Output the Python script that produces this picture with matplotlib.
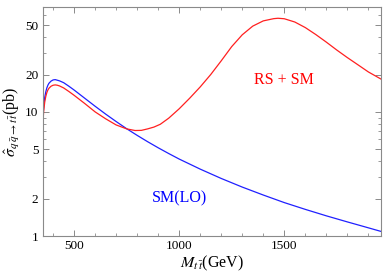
import matplotlib
matplotlib.use("Agg")
import matplotlib.pyplot as plt
from matplotlib.ticker import FixedLocator, NullFormatter, FixedFormatter

plt.rcParams['font.family'] = ['Liberation Serif', 'DejaVu Serif']
plt.rcParams['mathtext.fontset'] = 'stix'

# SM(LO)
sm_x = [350, 352, 355, 360, 365, 370, 375, 380, 390, 400, 410, 420, 430, 450, 475, 500,
        550, 600, 650, 700, 750, 800, 850, 900, 950, 1000, 1100, 1200, 1300, 1400,
        1500, 1600, 1700, 1800, 1900, 1960]
sm_y = [7.7, 9.2, 11.0, 13.1, 14.5, 15.6, 16.4, 17.0, 17.7, 18.1, 18.2, 18.0, 17.8, 17.2, 16.1, 15.0,
        12.9, 11.1, 9.6, 8.36, 7.32, 6.47, 5.75, 5.14, 4.62, 4.17, 3.46, 2.91, 2.48, 2.14,
        1.86, 1.64, 1.455, 1.30, 1.165, 1.09]

# RS + SM
rs_x = [350, 352, 355, 360, 365, 370, 375, 380, 390, 400, 410, 420, 430, 450, 475, 500,
        550, 600, 650, 700, 750, 790, 820, 850, 880, 910, 950, 1000, 1050, 1100, 1150,
        1200, 1250, 1300, 1350, 1400, 1450, 1470, 1500, 1550, 1600, 1650, 1700, 1750,
        1800, 1850, 1900, 1960]
rs_y = [7.3, 8.5, 10.1, 12.0, 13.3, 14.3, 15.0, 15.5, 16.1, 16.4, 16.5, 16.4, 16.2, 15.6, 14.6, 13.6,
        11.7, 10.0, 8.8, 7.85, 7.3, 7.08, 7.1, 7.3, 7.55, 7.95, 8.9, 10.6, 12.9, 15.9, 20.0,
        25.8, 33.6, 41.8, 49.1, 54.1, 56.4, 56.8, 56.3, 53.0, 47.8, 42.0, 36.5, 31.5,
        27.4, 24.0, 21.0, 18.4]

x_major = [500, 1000, 1500]
x_minor = [400, 600, 700, 800, 900, 1100, 1200, 1300, 1400, 1600, 1700, 1800, 1900]
y_major = [1, 2, 5, 10, 20, 50]
y_minor = [3, 4, 6, 7, 8, 9, 30, 40, 60, 70]

fig = plt.figure(figsize=(3.84, 2.80), dpi=100)
ax = fig.add_axes([0.111, 0.157, 0.881, 0.818])

ax.plot(sm_x, sm_y, color='#2020ff', lw=0.9)
ax.plot(rs_x, rs_y, color='#ff2020', lw=0.9)

ax.set_yscale('log')
ax.set_xlim(350, 1960)
ax.set_ylim(1, 70)

ax.xaxis.set_major_locator(FixedLocator(x_major))
ax.xaxis.set_minor_locator(FixedLocator(x_minor))
ax.yaxis.set_major_locator(FixedLocator(y_major))
ax.yaxis.set_major_formatter(FixedFormatter([str(v) for v in y_major]))
ax.yaxis.set_minor_locator(FixedLocator(y_minor))
ax.yaxis.set_minor_formatter(NullFormatter())

gray = '#8a8a8a'
for s in ax.spines.values():
    s.set_color(gray)
    s.set_linewidth(0.8)
ax.tick_params(which='both', direction='in', top=True, right=True, color=gray, labelsize=9.5)
ax.tick_params(which='major', length=4, width=0.7, pad=3)
ax.tick_params(which='minor', length=2, width=0.6)

ax.text(1000, 2.0, 'SM(LO)', color='blue', fontsize=11.5, ha='center', va='center')
ax.text(1500, 18.0, 'RS + SM', color='red', fontsize=11.5, ha='center', va='center')

ax.set_xlabel(r'$M_{t\,\bar{t}}$(GeV)', fontsize=11.5, labelpad=1)
ax.set_ylabel(r'$\hat{\sigma}_{q\,\bar{q}\to t\,\bar{t}}$(pb)', fontsize=11.5, labelpad=2)

fig.savefig('out.png', dpi=100)
